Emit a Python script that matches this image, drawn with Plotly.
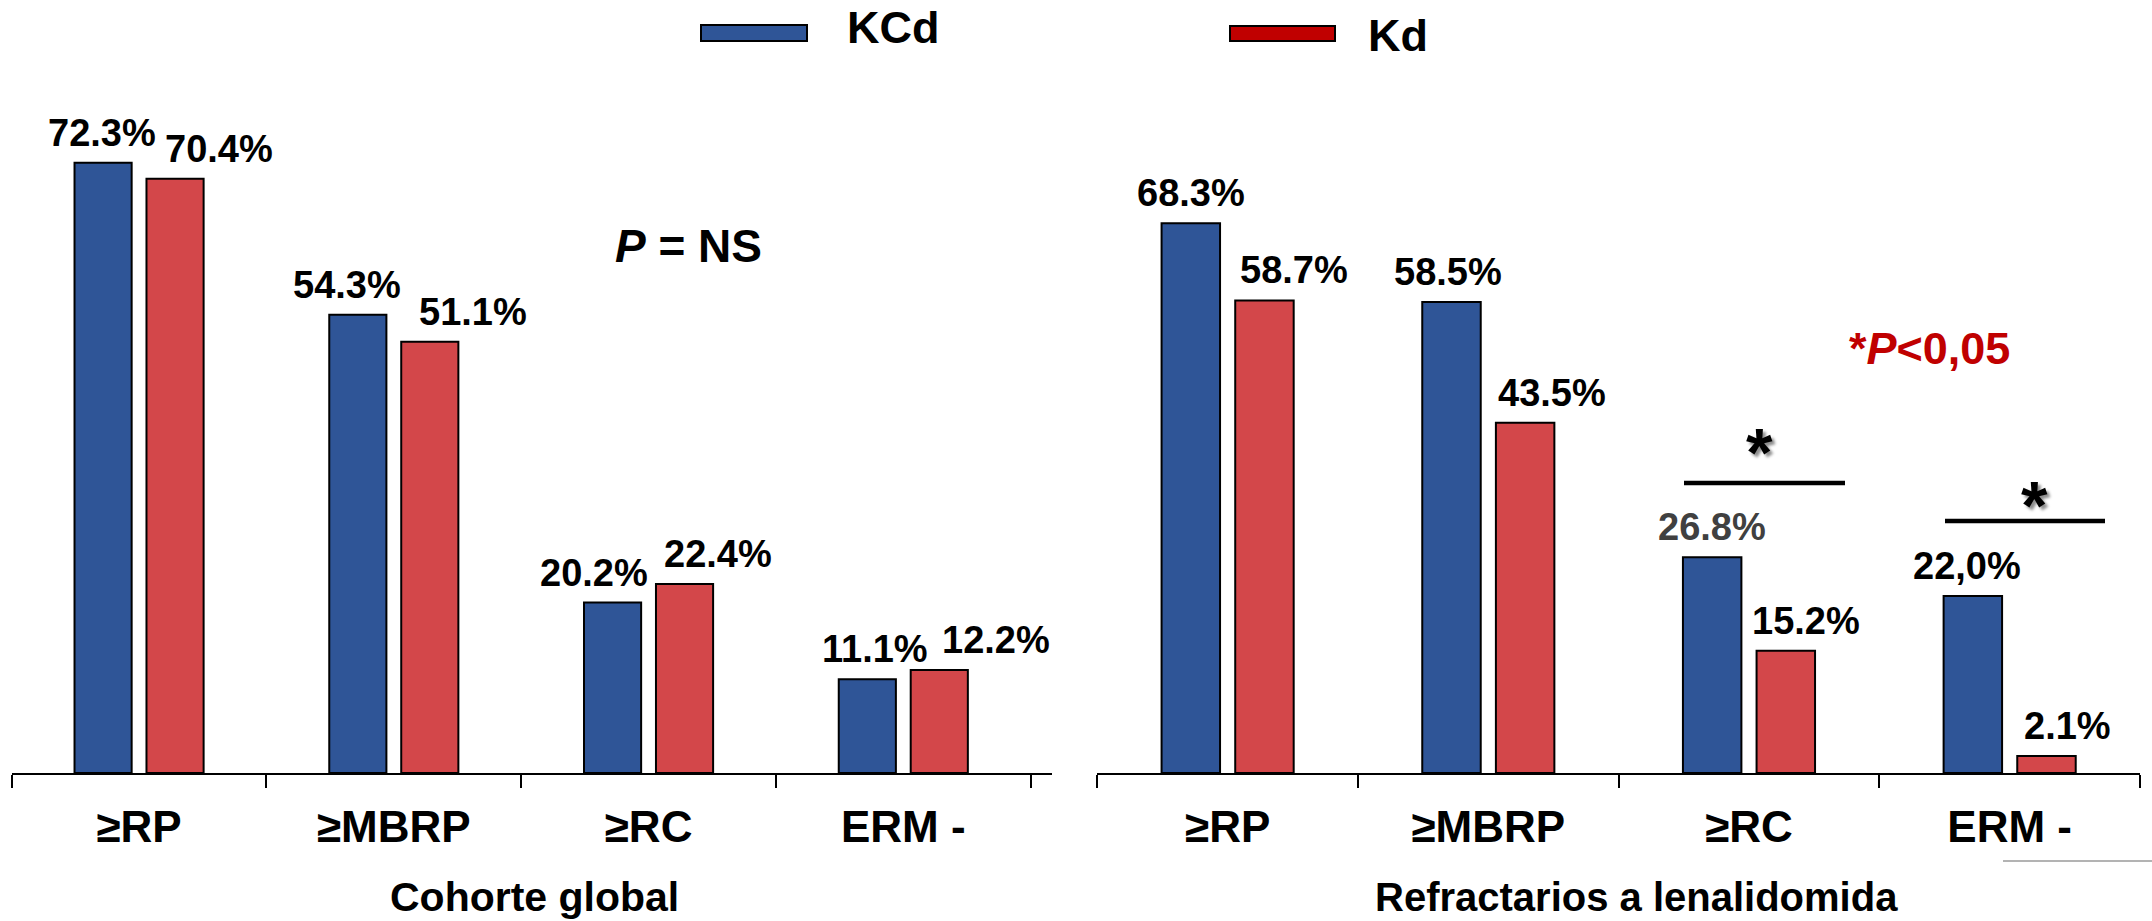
import plotly.graph_objects as go

W, H = 2152, 921

# ---- data ----
categories = ["≥RP", "≥MBRP", "≥RC", "ERM -"]
series_names = ["KCd", "Kd"]
panel_titles = ["Cohorte global", "Refractarios a lenalidomida"]

global_kcd = [72.3, 54.3, 20.2, 11.1]
global_kd = [70.4, 51.1, 22.4, 12.2]
refr_kcd = [68.3, 58.5, 26.8, 22.0]
refr_kd = [58.7, 43.5, 15.2, 2.1]

global_kcd_labels = ["72.3%", "54.3%", "20.2%", "11.1%"]
global_kd_labels = ["70.4%", "51.1%", "22.4%", "12.2%"]
refr_kcd_labels = ["68.3%", "58.5%", "26.8%", "22,0%"]
refr_kd_labels = ["58.7%", "43.5%", "15.2%", "2.1%"]

# ---- styling / layout constants ----
FONT = "Liberation Sans, Arial, sans-serif"
BLUE = "#2F5597"
RED = "#D3474A"
LEGEND_RED = "#C00000"
SIG_RED = "#C00000"

def px_x(p):
    return p / W

def px_y(p):
    return 1 - p / H

x_dom_left = [px_x(11.7), px_x(1052)]
x_dom_right = [px_x(1097.3), px_x(2140)]
y_dom = [px_y(773), px_y(90)]
plot_h = 773 - 90
y_range_left = [0, plot_h / 8.44]
y_range_right = [0, plot_h / 8.05]

BAR_HALF_OFFSET = 36.7  # px from category centre to each bar centre
LABEL_YSHIFT = 30

# horizontal nudges of the value labels, in px
global_kcd_dx = [0, -10, -18, 8]
global_kd_dx = [43, 42, 33, 56]
refr_kcd_dx = [0, -4, 0, -6]
refr_kd_dx = [30, 27, 20, 21]

fig = go.Figure()

panels = [
    ("x", "y", global_kcd, global_kd, global_kcd_labels, global_kd_labels, global_kcd_dx, global_kd_dx),
    ("x2", "y2", refr_kcd, refr_kd, refr_kcd_labels, refr_kd_labels, refr_kcd_dx, refr_kd_dx),
]

annotations = []
for xa, ya, kcd, kd, kcd_lab, kd_lab, kcd_dx, kd_dx in panels:
    for name, vals, color in ((series_names[0], kcd, BLUE), (series_names[1], kd, RED)):
        fig.add_trace(go.Bar(
            x=categories, y=vals, name=name, xaxis=xa, yaxis=ya,
            marker=dict(color=color, line=dict(color="black", width=2)),
            showlegend=False, hoverinfo="x+y+name",
        ))
    for i, cat in enumerate(categories):
        for vals, labs, dxs, side in ((kcd, kcd_lab, kcd_dx, -1), (kd, kd_lab, kd_dx, 1)):
            color = "#404040" if labs[i] == "26.8%" else "black"
            annotations.append(dict(
                x=cat, y=vals[i], xref=xa, yref=ya, text=labs[i], showarrow=False,
                xshift=side * BAR_HALF_OFFSET + dxs[i], yshift=LABEL_YSHIFT,
                xanchor="center", yanchor="middle",
                font=dict(family=FONT, size=38, color=color, weight="bold"),
            ))

# panel titles under the axes
annotations.append(dict(x=px_x(534), y=px_y(897), xref="paper", yref="paper",
                        text=panel_titles[0], showarrow=False, xanchor="center", yanchor="middle",
                        font=dict(family=FONT, size=41, color="black", weight="bold")))
annotations.append(dict(x=px_x(1636), y=px_y(897), xref="paper", yref="paper",
                        text=panel_titles[1], showarrow=False, xanchor="center", yanchor="middle",
                        font=dict(family=FONT, size=40, color="black", weight="bold")))

# legend entries
annotations.append(dict(x=px_x(845), y=px_y(27), xref="paper", yref="paper", text=series_names[0],
                        showarrow=False, xanchor="left", yanchor="middle",
                        font=dict(family=FONT, size=45, color="black", weight="bold")))
annotations.append(dict(x=px_x(1366), y=px_y(35), xref="paper", yref="paper", text=series_names[1],
                        showarrow=False, xanchor="left", yanchor="middle",
                        font=dict(family=FONT, size=45, color="black", weight="bold")))

# significance notes
annotations.append(dict(x=px_x(688), y=px_y(246), xref="paper", yref="paper",
                        text="<i>P</i> = NS", showarrow=False, xanchor="center", yanchor="middle",
                        font=dict(family=FONT, size=46, color="black", weight="bold")))
annotations.append(dict(x=px_x(1929), y=px_y(349), xref="paper", yref="paper",
                        text="*<i>P</i>&lt;0,05", showarrow=False, xanchor="center", yanchor="middle",
                        font=dict(family=FONT, size=45, color=SIG_RED, weight="bold")))
for ax, ay in ((1759, 436), (2034, 489)):
    annotations.append(dict(x=px_x(ax), y=px_y(ay + 16), xref="paper", yref="paper",
                            text="*", showarrow=False, xanchor="center", yanchor="middle",
                            font=dict(family=FONT, size=68, color="black", weight="bold",
                                      shadow="3px 3px 3px rgba(0,0,0,0.45)")))

shapes = [
    # legend swatches
    dict(type="rect", xref="paper", yref="paper", x0=px_x(701), x1=px_x(807), y0=px_y(41), y1=px_y(25),
         fillcolor=BLUE, line=dict(color="black", width=2)),
    dict(type="rect", xref="paper", yref="paper", x0=px_x(1230), x1=px_x(1335), y0=px_y(41), y1=px_y(26),
         fillcolor=LEGEND_RED, line=dict(color="black", width=2)),
    # significance bars
    dict(type="line", xref="paper", yref="paper", x0=px_x(1684), x1=px_x(1845), y0=px_y(483), y1=px_y(483),
         line=dict(color="black", width=4.5)),
    dict(type="line", xref="paper", yref="paper", x0=px_x(1945), x1=px_x(2105), y0=px_y(521), y1=px_y(521),
         line=dict(color="black", width=4.5)),
    # thin rule at lower right
    dict(type="line", xref="paper", yref="paper", x0=px_x(2003), x1=1, y0=px_y(861), y1=px_y(861),
         line=dict(color="#9a9a9a", width=1.5)),
]

xaxis_style = dict(
    type="category", showline=True, linecolor="black", linewidth=2,
    ticks="outside", ticklen=13, tickwidth=2, tickcolor="black", tickson="boundaries",
    tickfont=dict(family=FONT, size=44, color="black", weight="bold"),
    showgrid=False, zeroline=False, fixedrange=True, ticklabelstandoff=14,
)
yaxis_style = dict(visible=False, showgrid=False, zeroline=False, fixedrange=True)

fig.update_layout(
    width=W, height=H,
    margin=dict(l=0, r=0, t=0, b=0),
    paper_bgcolor="white", plot_bgcolor="white",
    barmode="group", bargap=0.435, bargroupgap=0.206,
    xaxis=dict(domain=x_dom_left, anchor="y", **xaxis_style),
    xaxis2=dict(domain=x_dom_right, anchor="y2", **xaxis_style),
    yaxis=dict(domain=y_dom, range=y_range_left, anchor="x", **yaxis_style),
    yaxis2=dict(domain=y_dom, range=y_range_right, anchor="x2", **yaxis_style),
    annotations=annotations, shapes=shapes, showlegend=False,
)

fig.write_html("out.html")
